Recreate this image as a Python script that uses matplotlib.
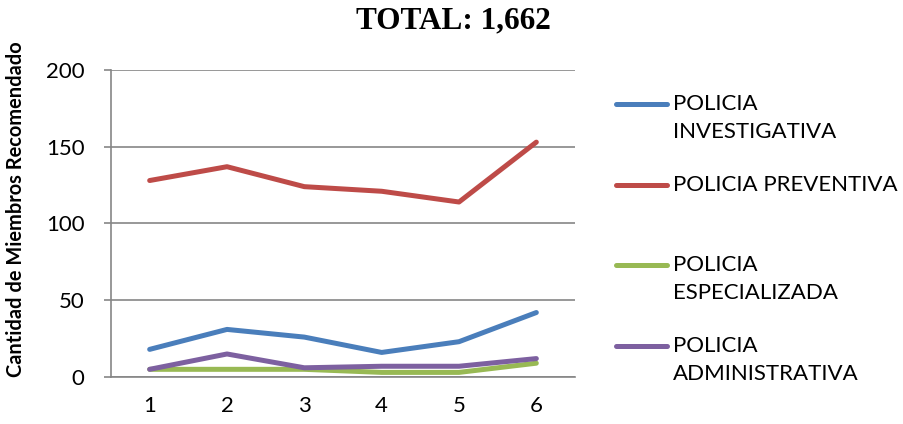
import matplotlib
matplotlib.use("Agg")
import matplotlib.pyplot as plt
from matplotlib.lines import Line2D

categories = [1, 2, 3, 4, 5, 6]
investigativa = [18, 31, 26, 16, 23, 42]
preventiva = [128, 137, 124, 121, 114, 153]
especializada = [5, 5, 5, 3, 3, 9]
administrativa = [5, 15, 6, 7, 7, 12]
y_ticks = [0, 50, 100, 150, 200]

series = [
    ("POLICIA\nINVESTIGATIVA", investigativa, "#4A7EBB"),
    ("POLICIA PREVENTIVA", preventiva, "#BE4B48"),
    ("POLICIA\nESPECIALIZADA", especializada, "#98B954"),
    ("POLICIA\nADMINISTRATIVA", administrativa, "#7D60A0"),
]

font = "Lato"
fig = plt.figure(figsize=(9.04, 4.24), dpi=100)
ax = fig.add_axes([111/904, 47/424, 464/904, 307/424])

order = [2, 3, 0, 1]
for i in order:
    label, vals, col = series[i]
    ax.plot(categories, vals, color=col, lw=3.6, solid_capstyle="round",
            solid_joinstyle="round", zorder=3)

ax.set_xlim(0.5, 6.5)
ax.set_ylim(0, 200)
ax.set_yticks(y_ticks)
ax.set_xticks(categories)
ax.grid(axis="y", color="#868686", lw=1.2, zorder=0)
for s in ["top", "right"]:
    ax.spines[s].set_visible(False)
for s in ["left", "bottom"]:
    ax.spines[s].set_color("#868686")
    ax.spines[s].set_linewidth(1.2)
ax.tick_params(axis="y", length=5, color="#868686", width=1.2, pad=14)
ax.tick_params(axis="x", length=0, pad=14)
for lbl in ax.get_xticklabels() + ax.get_yticklabels():
    lbl.set_fontfamily(font)
    lbl.set_fontsize(16)

ax.set_ylabel("Cantidad de Miembros Recomendado", fontfamily=font,
              fontweight="bold", fontsize=14.4)
ax.yaxis.set_label_coords(-0.183, 0.545)

fig.text(453/904, 1 - 21/424, "TOTAL: 1,662", ha="center", va="center",
         fontfamily="Liberation Serif", fontweight="bold", fontsize=22.5)

# legend drawn manually
legend_y = [104, 185, 265, 346]
for (label, vals, col), yy in zip(series, legend_y):
    yf = 1 - yy/424
    fig.add_artist(Line2D([616/904, 667/904], [yf, yf], color=col, lw=3.6,
                          solid_capstyle="round", transform=fig.transFigure))
    fig.text(673/904, yf + 10/424, label, ha="left", va="top",
             fontfamily=font, fontsize=16, linespacing=1.5)

fig.savefig("out.png", dpi=100)
